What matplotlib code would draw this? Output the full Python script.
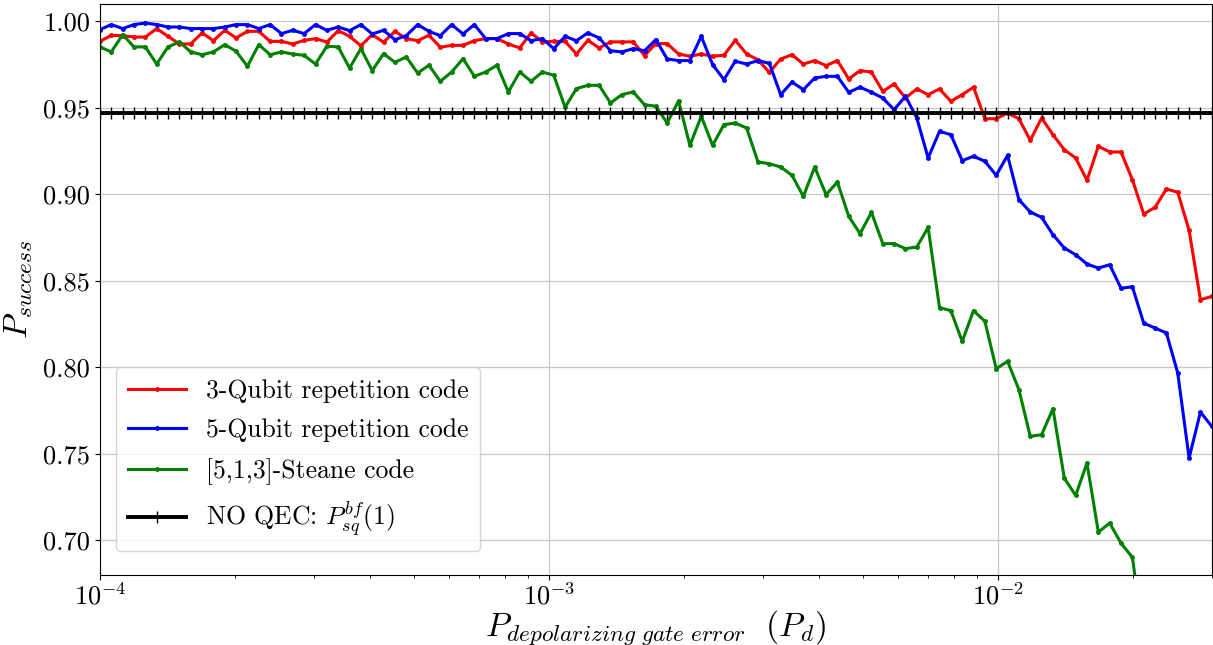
import numpy as np
import matplotlib
matplotlib.use("Agg")
import matplotlib.pyplot as plt

plt.rcParams['font.family'] = 'serif'
plt.rcParams['font.serif'] = ['cmr10']
plt.rcParams['mathtext.fontset'] = 'cm'
plt.rcParams['axes.formatter.use_mathtext'] = True

# x grid: 99 log-spaced depolarizing error rates from 1e-4 to 3e-2
p_d = np.geomspace(1e-4, 3e-2, 99)

rep3 = [0.9884, 0.9919, 0.9917, 0.9909, 0.9909, 0.9958, 0.9913, 0.9869, 0.9869, 0.9933,
        0.9888, 0.9948, 0.9904, 0.9942, 0.9942, 0.9884, 0.9884, 0.9869, 0.9890, 0.9900,
        0.9880, 0.9946, 0.9913, 0.9859, 0.9923, 0.9879, 0.9942, 0.9900, 0.9888, 0.9919,
        0.9850, 0.9861, 0.9861, 0.9888, 0.9900, 0.9900, 0.9869, 0.9846, 0.9933, 0.9881,
        0.9884, 0.9884, 0.9811, 0.9890, 0.9846, 0.9881, 0.9881, 0.9881, 0.9802, 0.9871,
        0.9871, 0.9811, 0.9798, 0.9811, 0.9798, 0.9804, 0.9890, 0.9811, 0.9778, 0.9705,
        0.9782, 0.9807, 0.9753, 0.9773, 0.9744, 0.9773, 0.9667, 0.9715, 0.9707, 0.9595,
        0.9638, 0.9557, 0.9609, 0.9576, 0.9609, 0.9538, 0.9576, 0.9619, 0.9437, 0.9437,
        0.9470, 0.9437, 0.9312, 0.9441, 0.9345, 0.9258, 0.9210, 0.9081, 0.9278, 0.9245,
        0.9245, 0.9085, 0.8886, 0.8925, 0.9031, 0.9012, 0.8792, 0.8391, 0.8410]

rep5 = [0.9952, 0.9981, 0.9958, 0.9981, 0.9990, 0.9981, 0.9967, 0.9967, 0.9958, 0.9958,
        0.9958, 0.9967, 0.9981, 0.9981, 0.9958, 0.9981, 0.9929, 0.9948, 0.9929, 0.9981,
        0.9948, 0.9967, 0.9946, 0.9981, 0.9927, 0.9948, 0.9894, 0.9917, 0.9981, 0.9942,
        0.9917, 0.9981, 0.9927, 0.9981, 0.9900, 0.9900, 0.9929, 0.9929, 0.9888, 0.9900,
        0.9842, 0.9913, 0.9888, 0.9933, 0.9904, 0.9830, 0.9823, 0.9842, 0.9830, 0.9894,
        0.9782, 0.9773, 0.9773, 0.9913, 0.9750, 0.9663, 0.9769, 0.9753, 0.9773, 0.9757,
        0.9576, 0.9649, 0.9605, 0.9672, 0.9682, 0.9682, 0.9590, 0.9619, 0.9590, 0.9557,
        0.9489, 0.9567, 0.9441, 0.9210, 0.9364, 0.9345, 0.9195, 0.9220, 0.9191, 0.9110,
        0.9225, 0.8969, 0.8898, 0.8867, 0.8767, 0.8690, 0.8651, 0.8597, 0.8574, 0.8593,
        0.8457, 0.8466, 0.8256, 0.8227, 0.8199, 0.7967, 0.7476, 0.7742, 0.7659]

steane = [0.9852, 0.9823, 0.9923, 0.9852, 0.9852, 0.9753, 0.9852, 0.9881, 0.9823, 0.9807,
          0.9823, 0.9865, 0.9827, 0.9740, 0.9865, 0.9807, 0.9823, 0.9811, 0.9803, 0.9753,
          0.9856, 0.9852, 0.9730, 0.9842, 0.9715, 0.9813, 0.9763, 0.9794, 0.9701, 0.9746,
          0.9653, 0.9707, 0.9784, 0.9682, 0.9707, 0.9746, 0.9592, 0.9707, 0.9653, 0.9707,
          0.9688, 0.9503, 0.9611, 0.9630, 0.9630, 0.9528, 0.9576, 0.9592, 0.9518, 0.9509,
          0.9412, 0.9540, 0.9283, 0.9451, 0.9283, 0.9403, 0.9412, 0.9383, 0.9187, 0.9177,
          0.9158, 0.9110, 0.8988, 0.9158, 0.8998, 0.9071, 0.8873, 0.8773, 0.8896, 0.8715,
          0.8715, 0.8686, 0.8696, 0.8809, 0.8345, 0.8328, 0.8150, 0.8328, 0.8266, 0.7992,
          0.8035, 0.7871, 0.7601, 0.7611, 0.7761, 0.7360, 0.7260, 0.7447, 0.7048, 0.7100,
          0.6984, 0.6902, 0.6430, 0.6300, 0.6100, 0.6000, 0.5800, 0.5600, 0.5500]

no_qec_value = 0.947
no_qec = [no_qec_value] * len(p_d)

labels = ["3-Qubit repetition code", "5-Qubit repetition code",
          "[5,1,3]-Steane code", r"NO QEC: $P_{sq}^{bf}(1)$"]
colors = ["red", "blue", "green", "black"]

fig = plt.figure(figsize=(12.13, 6.45), dpi=100)
ax = fig.add_axes([0.0824, 0.1085, 0.9166, 0.8853])

for ys, lab, col in zip([rep3, rep5, steane], labels[:3], colors[:3]):
    ax.plot(p_d, ys, color=col, lw=2.2, marker='o', markersize=2.5, label=lab)
ax.plot(p_d, no_qec, color='black', lw=2.8, marker='+', markersize=9,
        markeredgewidth=1.0, label=labels[3])

ax.set_xscale('log')
ax.set_xlim(1e-4, 3e-2)
ax.set_ylim(0.68, 1.01)
ax.set_yticks([0.70, 0.75, 0.80, 0.85, 0.90, 0.95, 1.00])
ax.set_yticklabels(["0.70", "0.75", "0.80", "0.85", "0.90", "0.95", "1.00"])
ax.grid(True, which='major', color='#c8c8c8', lw=0.9)
ax.tick_params(axis='both', which='major', labelsize=19)
ax.tick_params(axis='x', which='major', pad=2)

ax.set_xlabel(r"$P_{depolarizing\ gate\ error}\ \ (P_d)$", fontsize=24, labelpad=-1)
ax.set_ylabel(r"$P_{success}$", fontsize=24, labelpad=6)

leg = ax.legend(loc='lower left', fontsize=18.5, bbox_to_anchor=(0.003, 0.02),
                framealpha=0.8, handlelength=2.25, handletextpad=0.8,
                borderpad=0.45, labelspacing=0.62)

fig.savefig("out.png", dpi=100)
